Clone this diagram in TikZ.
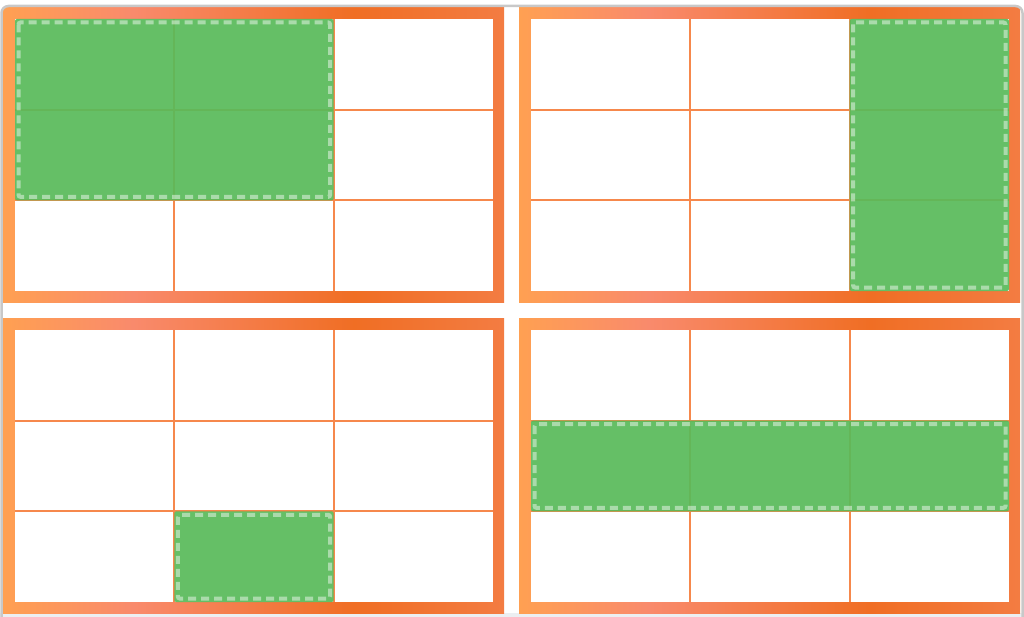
\documentclass[tikz,border=0pt]{standalone}
\usepackage{xcolor}
\usepackage{tikz}

\definecolor{orA}{RGB}{255,160,82}
\definecolor{orB}{RGB}{249,138,108}
\definecolor{orC}{RGB}{240,110,36}
\definecolor{orD}{RGB}{243,124,66}
\definecolor{gridor}{RGB}{246,136,76}
\definecolor{pickgreen}{RGB}{88,186,90}
\definecolor{framegray}{RGB}{200,200,200}
\definecolor{footgray}{RGB}{236,239,242}
\pgfdeclarehorizontalshading{panelshade}{100bp}{color(0bp)=(orA); color(25bp)=(orA); color(38bp)=(orB); color(60bp)=(orC); color(75bp)=(orD); color(100bp)=(orD)}

\begin{document}
\begin{tikzpicture}[
  x=1pt, y=-1pt,
  panel/.style={shading=panelshade},
  innerbox/.style={fill=white, inner sep=0pt, anchor=north west, minimum width=478pt, minimum height=272pt},
  gridln/.style={draw=gridor, line width=1.8pt},
  pick/.style={fill=pickgreen, fill opacity=0.92, rounded corners=2pt},
  pickedge/.style={draw=white, draw opacity=0.45, line width=4pt, dash pattern=on 8pt off 5pt, rounded corners=2pt}
]
\useasboundingbox (0,0) rectangle (1024,617);
\fill[footgray] (0,613) rectangle (1024,617);

\begin{scope}
\clip[rounded corners=7pt] (2,6.5) rectangle (1022,640);
% panel / selected cells (col from, row from, col to, row to)
\foreach \ox/\oy/\nm/\ca/\ra/\cb/\rb in {15/19/tl/0/0/2/2, 531/19/tr/2/0/3/3, 15/330/bl/1/2/2/3, 531/330/br/0/1/3/2} {
  \shade[panel] (\ox-12,\oy-12) rectangle (\ox+489,\oy+283);
  \node[innerbox] (\nm) at (\ox,\oy) {};
  \foreach \i in {1,2} {
    \draw[gridln] (\ox+\i*159.33,\oy) -- (\ox+\i*159.33,\oy+272);
    \draw[gridln] (\ox,\oy+\i*90.67) -- (\ox+478,\oy+\i*90.67);
  }
  \fill[pick] (\ox+\ca*159.33,\oy+\ra*90.67) rectangle (\ox+\cb*159.33,\oy+\rb*90.67);
  \draw[pickedge] (\ox+\ca*159.33+3.5,\oy+\ra*90.67+3.5) rectangle (\ox+\cb*159.33-3.5,\oy+\rb*90.67-3.5);
}
\end{scope}

\draw[framegray, line width=2.5pt, rounded corners=7pt] (1.5,6) rectangle (1022.5,640);

\end{tikzpicture}
\end{document}
